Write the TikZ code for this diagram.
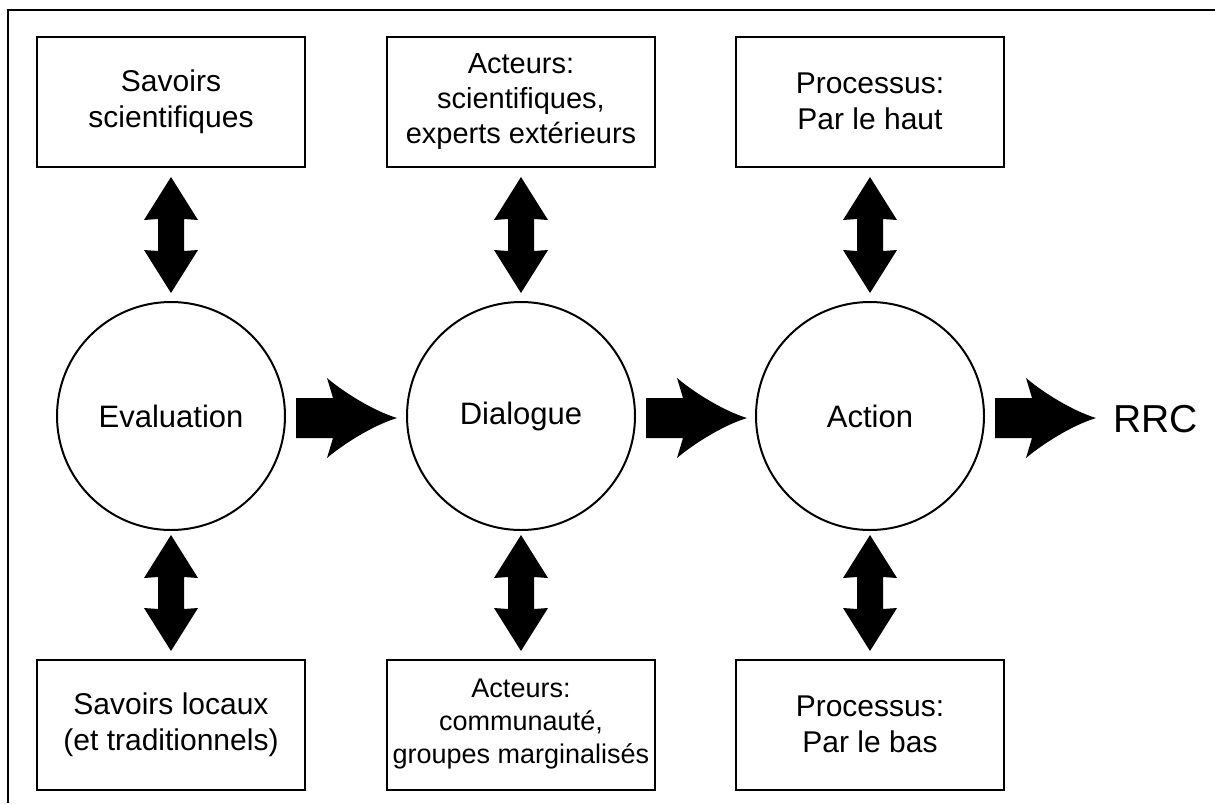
\documentclass[tikz,border=0pt]{standalone}
\usepackage{fontspec}
\setmainfont{Liberation Sans}
\begin{document}
\begin{tikzpicture}[x=1pt,y=-1pt,
  box/.style={draw,line width=2pt,minimum width=268pt,minimum height=130pt,align=center,inner sep=0pt,
    font=\fontsize{30}{36}\selectfont},
  circ/.style={circle,draw,line width=2pt,minimum size=228pt,inner sep=0pt,font=\fontsize{31}{36}\selectfont},
  dblarrow/.pic={\fill (0,0) -- (27,43) -- (13,42) -- (13,74) -- (27,73) -- (0,116) -- (-27,73) -- (-13,74) -- (-13,42) -- (-27,43) -- cycle;},
  rarrow/.pic={\fill (0,-20) -- (37,-20) -- (31,-40) .. controls (45,-28) and (75,-8) .. (101,0) .. controls (75,8) and (45,28) .. (31,40) -- (37,20) -- (0,20) -- cycle;}
]
\useasboundingbox (0,0) rectangle (1215,803);
\draw[line width=2.5pt] (8,803) -- (8,10) -- (1215,10);

% circles
\node[circ] (ev) at (171,416) {Evaluation};
\node[circ] (di) at (521,416) {Dialogue};
\node[circ] (ac) at (870,416) {Action};

% top boxes
\node[box] (t1) at (171,101.5) {Savoirs\\scientifiques};
\node[box,font=\fontsize{29}{35}\selectfont] (t2) at (521,101.5) {Acteurs:\\scientifiques,\\experts extérieurs};
\node[box] (t3) at (870,101.5) {Processus:\\Par le haut};

% bottom boxes
\node[box] (b1) at (171,724.5) {Savoirs locaux\\(et traditionnels)};
\node[box,font=\fontsize{27}{33}\selectfont] (b2) at (521,724.5) {Acteurs:\\communauté,\\groupes marginalisés};
\node[box] (b3) at (870,724.5) {Processus:\\Par le bas};

% vertical double arrows
\path (171,177) pic {dblarrow};
\path (521,177) pic {dblarrow};
\path (870,177) pic {dblarrow};
\path (171,535) pic {dblarrow};
\path (521,535) pic {dblarrow};
\path (870,535) pic {dblarrow};

% horizontal arrows
\path (296,418) pic {rarrow};
\path (646,418) pic {rarrow};
\path (995,418) pic {rarrow};

\node[anchor=base west,inner sep=0pt,font=\fontsize{39}{44}\selectfont] (rrc) at (1113,432) {RRC};
\end{tikzpicture}
\end{document}
